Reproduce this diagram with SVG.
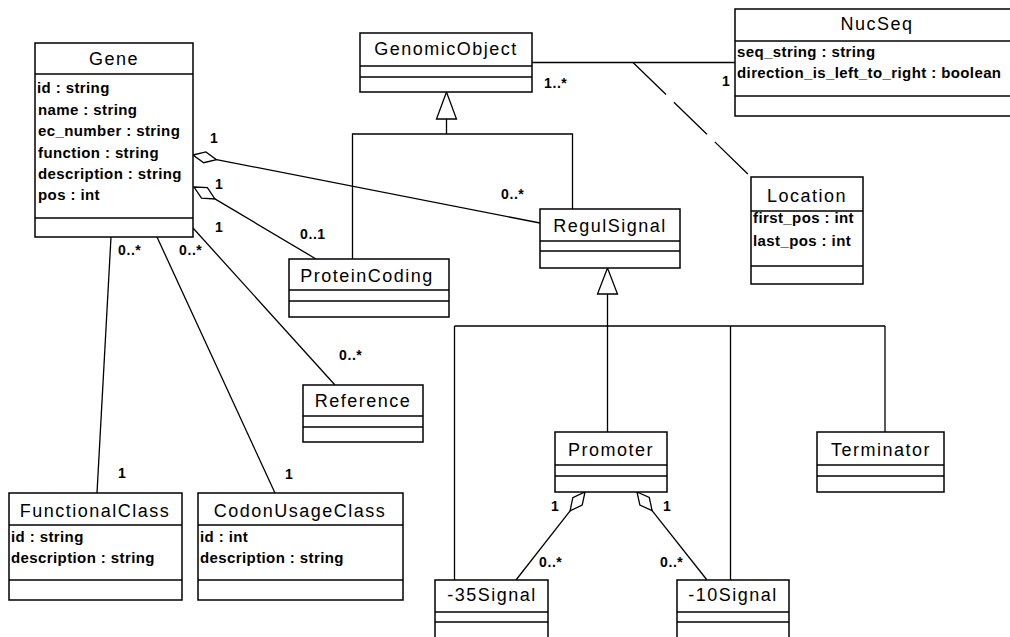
<svg xmlns="http://www.w3.org/2000/svg" width="1010" height="637" viewBox="0 0 1010 637">
  <style>
    .box { fill: #fff; stroke: #000; stroke-width: 1.5; }
    .sep { stroke: #000; stroke-width: 1.5; }
    .title { font-family: "Liberation Sans", Arial, sans-serif; font-size: 18px; letter-spacing: 1.5px; text-anchor: middle; fill: #000; }
    .attr { font-family: "Liberation Sans", Arial, sans-serif; font-size: 15px; font-weight: bold; letter-spacing: 0.4px; fill: #000; }
    .mult { font-family: "Liberation Sans", Arial, sans-serif; font-size: 14px; font-weight: bold; letter-spacing: 0.6px; fill: #000; }
    .line { stroke: #000; stroke-width: 1.3; fill: none; }
    .diamond { fill: #fff; stroke: #000; stroke-width: 1.3; }
    .tri { fill: #fff; stroke: #000; stroke-width: 1.3; }
  </style>
  <rect width="1010" height="637" fill="#fff"/>

  <!-- connectors -->
  <g id="connectors">
    <!-- generalization: ProteinCoding, RegulSignal -> GenomicObject -->
    <polyline class="line" points="352.5,259 352.5,134 572.5,134 572.5,209"/>
    <line class="line" x1="446.5" y1="119" x2="446.5" y2="134"/>
    <polygon class="tri" points="446.5,92 436.5,119 456.5,119"/>

    <!-- generalization: Promoter, Terminator, -35Signal, -10Signal -> RegulSignal -->
    <line class="line" x1="454.5" y1="326" x2="885" y2="326"/>
    <line class="line" x1="454.5" y1="326" x2="454.5" y2="580"/>
    <line class="line" x1="607.5" y1="294" x2="607.5" y2="433"/>
    <line class="line" x1="730.5" y1="326" x2="730.5" y2="580"/>
    <line class="line" x1="885" y1="326" x2="885" y2="433"/>
    <polygon class="tri" points="607.5,268 597.5,294 617.5,294"/>

    <!-- GenomicObject - NucSeq association with Location class -->
    <line class="line" x1="532" y1="62.5" x2="735" y2="62.5"/>
    <line class="line" x1="633" y1="62.5" x2="751" y2="177" stroke-dasharray="46 11"/>

    <!-- Gene aggregations -->
    <line class="line" x1="216.5" y1="159.6" x2="540" y2="223"/>
    <polygon class="diamond" points="193,155 205.9,151.9 216.5,159.6 203.7,162.7"/>
    <line class="line" x1="214.9" y1="198.9" x2="316" y2="259"/>
    <polygon class="diamond" points="194,187 207.4,187.7 214.9,198.9 201.5,198.1"/>

    <!-- Gene associations -->
    <line class="line" x1="193" y1="228" x2="335" y2="385"/>
    <line class="line" x1="111" y1="237" x2="97" y2="493"/>
    <line class="line" x1="157" y1="237" x2="275" y2="493"/>

    <!-- Promoter aggregations -->
    <line class="line" x1="570.1" y1="510.8" x2="516" y2="580"/>
    <polygon class="diamond" points="585,492 582.2,505.1 570.1,510.8 572.8,497.7"/>
    <line class="line" x1="652.1" y1="510.6" x2="707" y2="580"/>
    <polygon class="diamond" points="637,492 649.3,497.5 652.1,510.6 639.9,505.1"/>

    <!-- multiplicities -->
    <text class="mult" x="210" y="143">1</text>
    <text class="mult" x="215" y="189">1</text>
    <text class="mult" x="215" y="232">1</text>
    <text class="mult" x="300" y="239">0..1</text>
    <text class="mult" x="501" y="199">0..*</text>
    <text class="mult" x="544" y="88">1..*</text>
    <text class="mult" x="722" y="86">1</text>
    <text class="mult" x="118" y="255">0..*</text>
    <text class="mult" x="179" y="255">0..*</text>
    <text class="mult" x="339" y="360">0..*</text>
    <text class="mult" x="118" y="478">1</text>
    <text class="mult" x="285" y="479">1</text>
    <text class="mult" x="551" y="511">1</text>
    <text class="mult" x="663" y="511">1</text>
    <text class="mult" x="539" y="567">0..*</text>
    <text class="mult" x="660" y="567">0..*</text>
  </g>

  <g id="Gene">
    <rect class="box" x="35" y="43" width="158" height="194"/>
    <line class="sep" x1="35" y1="74" x2="193" y2="74"/>
    <line class="sep" x1="35" y1="218" x2="193" y2="218"/>
    <text class="title" x="114" y="65">Gene</text>
    <text class="attr" x="37" y="93">id : string</text>
    <text class="attr" x="38" y="115">name : string</text>
    <text class="attr" x="38" y="136">ec_number : string</text>
    <text class="attr" x="38" y="158">function : string</text>
    <text class="attr" x="38" y="179">description : string</text>
    <text class="attr" x="38" y="200">pos : int</text>
  </g>

  <g id="GenomicObject">
    <rect class="box" x="360" y="33" width="172" height="59"/>
    <line class="sep" x1="360" y1="66" x2="532" y2="66"/>
    <line class="sep" x1="360" y1="77" x2="532" y2="77"/>
    <text class="title" x="446" y="55">GenomicObject</text>
  </g>

  <g id="NucSeq">
    <rect class="box" x="735" y="9" width="285" height="107"/>
    <line class="sep" x1="735" y1="41" x2="1010" y2="41"/>
    <line class="sep" x1="735" y1="96" x2="1010" y2="96"/>
    <text class="title" x="877" y="30">NucSeq</text>
    <text class="attr" x="737" y="57">seq_string : string</text>
    <text class="attr" x="737" y="78">direction_is_left_to_right : boolean</text>
  </g>

  <g id="Location">
    <rect class="box" x="751" y="177" width="112" height="107"/>
    <line class="sep" x1="751" y1="211" x2="863" y2="211"/>
    <line class="sep" x1="751" y1="266" x2="863" y2="266"/>
    <text class="title" x="807" y="202">Location</text>
    <text class="attr" x="753" y="223">first_pos : int</text>
    <text class="attr" x="753" y="246">last_pos : int</text>
  </g>

  <g id="RegulSignal">
    <rect class="box" x="540" y="209" width="140" height="59"/>
    <line class="sep" x1="540" y1="241" x2="680" y2="241"/>
    <line class="sep" x1="540" y1="251" x2="680" y2="251"/>
    <text class="title" x="610" y="232">RegulSignal</text>
  </g>

  <g id="ProteinCoding">
    <rect class="box" x="289" y="259" width="160" height="58"/>
    <line class="sep" x1="289" y1="290" x2="449" y2="290"/>
    <line class="sep" x1="289" y1="301" x2="449" y2="301"/>
    <text class="title" x="367" y="282">ProteinCoding</text>
  </g>

  <g id="Reference">
    <rect class="box" x="303" y="385" width="120" height="57"/>
    <line class="sep" x1="303" y1="416" x2="423" y2="416"/>
    <line class="sep" x1="303" y1="427" x2="423" y2="427"/>
    <text class="title" x="363" y="407">Reference</text>
  </g>

  <g id="Promoter">
    <rect class="box" x="555" y="432" width="112" height="60"/>
    <line class="sep" x1="555" y1="465" x2="667" y2="465"/>
    <line class="sep" x1="555" y1="476" x2="667" y2="476"/>
    <text class="title" x="611" y="456">Promoter</text>
  </g>

  <g id="Terminator">
    <rect class="box" x="817" y="432" width="127" height="60"/>
    <line class="sep" x1="817" y1="465" x2="944" y2="465"/>
    <line class="sep" x1="817" y1="476" x2="944" y2="476"/>
    <text class="title" x="881" y="456">Terminator</text>
  </g>

  <g id="Signal35">
    <rect class="box" x="435" y="580" width="113" height="70"/>
    <line class="sep" x1="435" y1="612" x2="548" y2="612"/>
    <line class="sep" x1="435" y1="622" x2="548" y2="622"/>
    <text class="title" x="492" y="601">-35Signal</text>
  </g>

  <g id="Signal10">
    <rect class="box" x="677" y="580" width="112" height="70"/>
    <line class="sep" x1="677" y1="612" x2="789" y2="612"/>
    <line class="sep" x1="677" y1="622" x2="789" y2="622"/>
    <text class="title" x="733" y="601">-10Signal</text>
  </g>

  <g id="FunctionalClass">
    <rect class="box" x="9" y="493" width="173" height="107"/>
    <line class="sep" x1="9" y1="525" x2="182" y2="525"/>
    <line class="sep" x1="9" y1="580" x2="182" y2="580"/>
    <text class="title" x="95" y="517">FunctionalClass</text>
    <text class="attr" x="11" y="542">id : string</text>
    <text class="attr" x="11" y="563">description : string</text>
  </g>

  <g id="CodonUsageClass">
    <rect class="box" x="198" y="493" width="205" height="107"/>
    <line class="sep" x1="198" y1="525" x2="403" y2="525"/>
    <line class="sep" x1="198" y1="580" x2="403" y2="580"/>
    <text class="title" x="300" y="517">CodonUsageClass</text>
    <text class="attr" x="200" y="542">id : int</text>
    <text class="attr" x="200" y="563">description : string</text>
  </g>
</svg>
